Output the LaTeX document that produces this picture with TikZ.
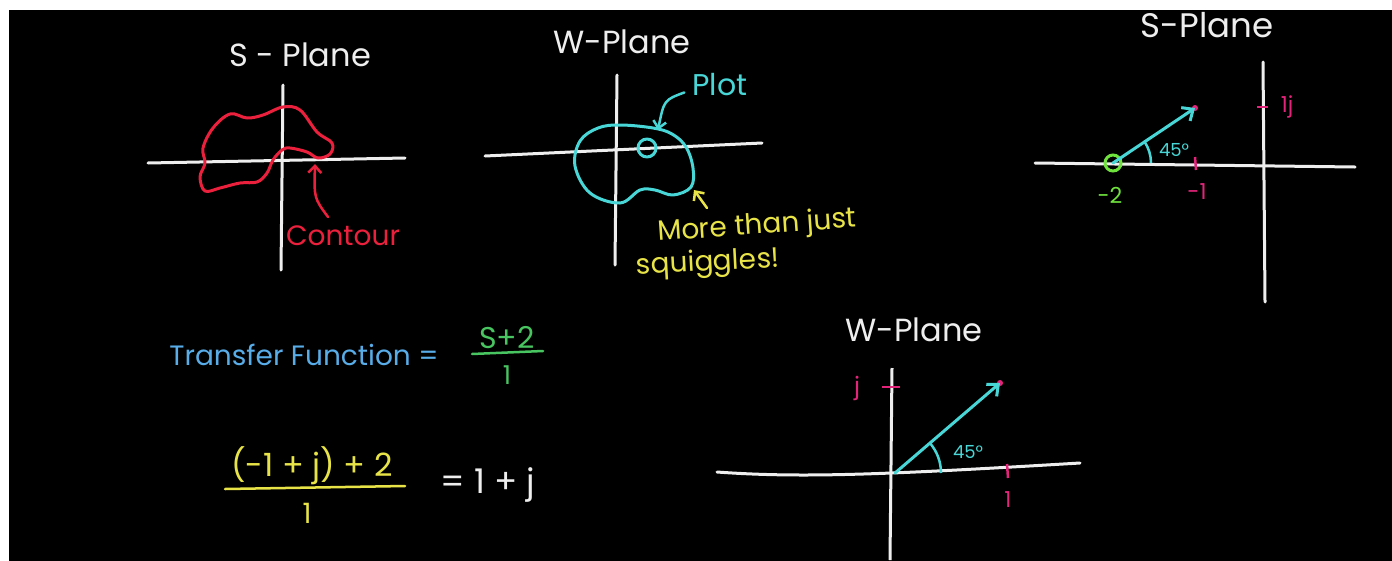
\documentclass[tikz,border=0pt]{standalone}
\usepackage{fontspec}
\setmainfont{Poppins}
\usetikzlibrary{arrows.meta, positioning}
\definecolor{chalk}{RGB}{238,238,238}
\definecolor{redchalk}{RGB}{235,32,60}
\definecolor{cyanchalk}{RGB}{72,214,214}
\definecolor{yellowchalk}{RGB}{232,228,72}
\definecolor{bluechalk}{RGB}{88,172,232}
\definecolor{greenchalk}{RGB}{72,196,96}
\definecolor{limechalk}{RGB}{112,226,62}
\definecolor{pinkchalk}{RGB}{226,36,122}

\tikzset{
  hand/.style={font=\fontsize{#1}{#1}\selectfont, inner sep=0pt},
  axis/.style={chalk, line width=3pt, line cap=round},
  curve/.style={line width=3pt, line cap=round, line join=round},
  tickmark/.style={pinkchalk, line width=2.5pt},
  vec/.style={cyanchalk, line width=3pt, line cap=round,
    -{Straight Barb[length=9pt, width=16pt, line width=3pt]}},
  pointer/.style={line width=2.5pt, line cap=round,
    -{Straight Barb[length=7pt, width=13pt, line width=2.5pt]}},
}

\begin{document}
\begin{tikzpicture}[x=1pt, y=-1pt]
\useasboundingbox (0,0) rectangle (1392,560);
\fill[white] (0,0) rectangle (1392,560);
\fill[black] (9,10) rectangle (1420,590);

% s-plane with contour
\node[hand=32, chalk] (s1title) at (300,55) {S - Plane};
\draw[axis] (148,163) -- (405,158);
\draw[axis] (283,85) -- (281,270);
\draw[curve, redchalk] plot[smooth cycle, tension=0.6] coordinates {
  (203,148) (213,128) (230,114) (247,118) (263,115) (283,107) (300,110)
  (317,132) (332,143) (330,154) (318,158) (307,152) (290,148) (282,150)
  (273,160) (267,173) (257,182) (240,183) (220,188) (205,191) (200,177)
  (205,163)};
\node[hand=28, redchalk] (contour) at (343,236) {Contour};
\coordinate (ctip) at (315,164);
\draw[pointer, redchalk] (328,217) .. controls (314,198) .. (ctip);

% w-plane with plot
\node[hand=32, chalk] (w1title) at (622,42) {W-Plane};
\draw[axis] (485,156) -- (762,143);
\draw[axis] (617,75) -- (615,265);
\draw[curve, cyanchalk] plot[smooth cycle, tension=0.6] coordinates {
  (620,125) (653,128) (672,134) (686,147) (693,168) (691,187) (673,195)
  (655,190) (640,190) (620,203) (590,193) (575,166) (580,141) (598,128)};
\draw[curve, cyanchalk] (647,148) circle[radius=9];
\node[hand=30, cyanchalk] (plot) at (720,85) {Plot};
\coordinate (ptip) at (658,130);
\draw[pointer, cyanchalk] ([shift={(-8pt,4pt)}]plot.south west) .. controls (664,100) .. (ptip);
\node[hand=28, yellowchalk, rotate=4] (more) at (757,227) {More than just};
\node[hand=28, yellowchalk, rotate=3] (squig) at (708,264) {squiggles!};
\coordinate (ystart) at (707,208);
\coordinate (ytip) at (694,190);
\draw[pointer, yellowchalk] (ystart) -- (ytip);

% s-plane, one point
\node[hand=34, chalk] (s2title) at (1207,25) {S-Plane};
\draw[axis] (1035,163) -- (1355,167);
\draw[axis] (1263,62) -- (1265,302);
\coordinate (szero) at (1113,163);
\coordinate (spoint) at (1195,108);
\draw[tickmark] (1195,157) -- (1196,170);
\draw[tickmark] (1257,107) -- (1268,107);
\fill[pinkchalk] (spoint) circle[radius=3];
\draw[limechalk, line width=3pt] (szero) circle[radius=8];
\draw[vec] (szero) -- (spoint);
\draw[cyanchalk, line width=2.5pt] ([shift={(0:38pt)}]szero) arc[start angle=0, end angle=34, radius=38pt];
\node[hand=18, cyanchalk] (sangle) at (1174,150) {45°};
\node[hand=22, pinkchalk] (sminus) at (1197,192) {-1};
\node[hand=22, pinkchalk] (sone) at (1287,107) {1j};
\node[hand=22, limechalk] (stwo) at (1110,195) {-2};

% w-plane, image point
\node[hand=32, chalk] (w2title) at (914,330) {W-Plane};
\draw[axis] (717,472) .. controls (800,478) and (880,475) .. (1080,463);
\draw[axis, line cap=butt] (892,368) -- (890,560);
\coordinate (wzero) at (895,473);
\coordinate (wpoint) at (1000,383);
\draw[tickmark] (882,387) -- (900,387);
\draw[tickmark] (1007,464) -- (1008,478);
\fill[pinkchalk] (wpoint) circle[radius=3];
\draw[vec] (wzero) -- (wpoint);
\draw[cyanchalk, line width=2.5pt] ([shift={(0:46pt)}]wzero) arc[start angle=0, end angle=40, radius=46pt];
\node[hand=18, cyanchalk] (wangle) at (968,452) {45°};
\node[hand=24, pinkchalk] (wj) at (857,388) {j};
\node[hand=22, pinkchalk] (wone) at (1008,500) {1};

% transfer function
\node[hand=28, bluechalk] (tf) at (304,355) {Transfer Function =};
\node[hand=30, greenchalk] (tfnum) at (507,338) {S+2};
\draw[greenchalk, line width=2.5pt, line cap=round] (472,354) -- (543,351);
\node[hand=26, greenchalk] (tfden) at (507,375) {1};
\node[hand=32, yellowchalk] (evnum) at (312,466) {(-1 + j) + 2};
\draw[yellowchalk, line width=2.5pt, line cap=round] (225,489) -- (405,486);
\node[hand=28, yellowchalk] (evden) at (307,513) {1};
\node[hand=34, chalk] (result) at (488,485) {= 1 + j};
\end{tikzpicture}
\end{document}
